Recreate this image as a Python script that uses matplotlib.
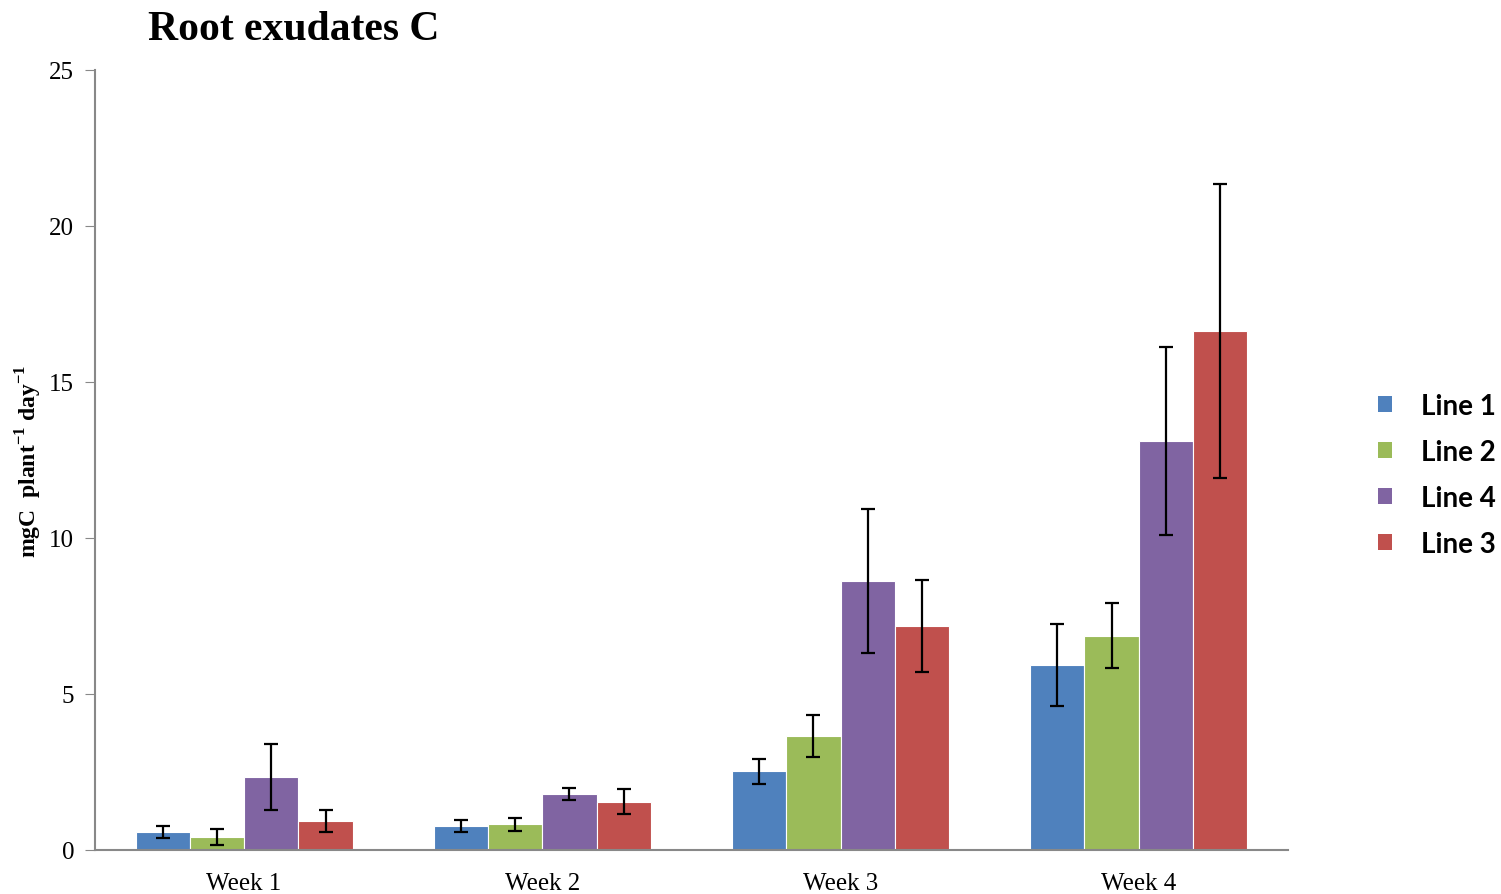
import numpy as np
import matplotlib
matplotlib.use("Agg")
from matplotlib import pyplot as plt
from matplotlib.patches import Patch

# data
weeks = ['Week 1', 'Week 2', 'Week 3', 'Week 4']
series = ['Line 1', 'Line 2', 'Line 4', 'Line 3']
line1 = [0.58, 0.77, 2.53, 5.93]
line2 = [0.42, 0.82, 3.65, 6.86]
line4 = [2.34, 1.79, 8.62, 13.1]
line3 = [0.93, 1.54, 7.18, 16.63]
err1 = [0.20, 0.20, 0.40, 1.30]
err2 = [0.25, 0.22, 0.67, 1.04]
err4 = [1.06, 0.20, 2.30, 3.02]
err3 = [0.35, 0.40, 1.47, 4.70]
colors = ['#4F81BD', '#9BBB59', '#8064A2', '#C0504D']

plt.rcParams['font.family'] = ['Liberation Serif', 'DejaVu Serif']
plt.rcParams['mathtext.fontset'] = 'custom'
plt.rcParams['mathtext.rm'] = 'Liberation Serif:bold'
plt.rcParams['mathtext.bf'] = 'Liberation Serif:bold'

figura = plt.figure(figsize=(15.01, 8.95), dpi=100)
ax = figura.add_axes([0.0633, 0.0492, 0.7947, 0.8715])

x = np.arange(len(weeks))
largura = 0.182
valores = [line1, line2, line4, line3]
erros = [err1, err2, err4, err3]
for i in range(4):
    pos = x + (i - 1.5) * largura
    ax.bar(pos, valores[i], largura, color=colors[i], edgecolor='white', linewidth=0.8, zorder=2)
    ax.errorbar(pos, valores[i], yerr=erros[i], fmt='none', ecolor='black',
                elinewidth=1.6, capsize=5, capthick=1.6, zorder=3)

ax.set_xlim(-0.5, 3.5)
ax.set_ylim(0, 25)
ax.set_yticks([0, 5, 10, 15, 20, 25])
ax.set_xticks(x)
ax.set_xticklabels(weeks, fontsize=18)
ax.tick_params(axis='y', labelsize=18, length=7, color='#888888', direction='out', pad=8)
ax.tick_params(axis='x', length=0, pad=16)
for s in ['top', 'right']:
    ax.spines[s].set_visible(False)
for s in ['left', 'bottom']:
    ax.spines[s].set_color('#888888')
    ax.spines[s].set_linewidth(1.5)

ax.set_ylabel(r'mgC  plant$^{-1}$ day$^{-1}$', fontsize=17, fontweight='bold', labelpad=4)
figura.text(0.0986, 0.966, 'Root exudates C', fontsize=30, fontweight='bold', va='center', ha='left')

handles = [Patch(facecolor=c, edgecolor='none') for c in colors]
figura.legend(handles, series, loc='center left', bbox_to_anchor=(0.918, 0.468),
              bbox_transform=figura.transFigure, frameon=False, borderpad=0, borderaxespad=0,
              prop={'family': 'Lato', 'weight': 'bold', 'size': 20},
              handlelength=0.5, handleheight=0.5, handletextpad=1.05, labelspacing=0.72)

figura.savefig('out.png', dpi=100)
